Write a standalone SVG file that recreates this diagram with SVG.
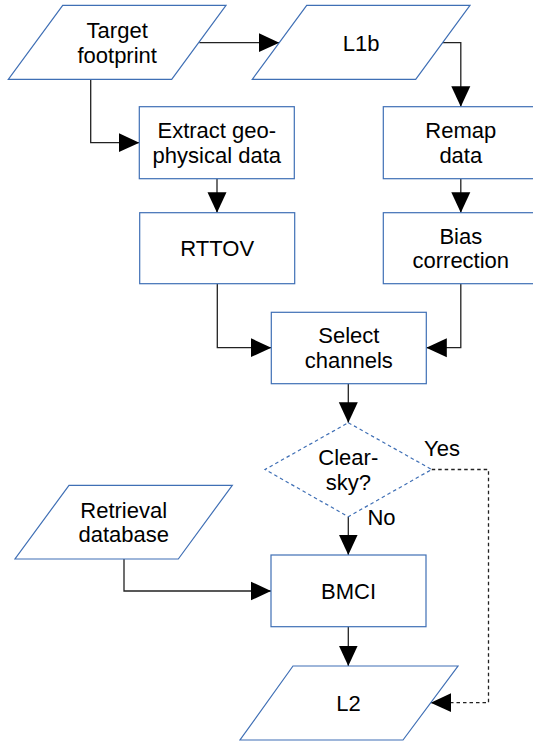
<svg xmlns="http://www.w3.org/2000/svg" width="533" height="744" viewBox="0 0 533 744">
<defs>
<style>
.n{fill:#ffffff;stroke:#3f6fb5;stroke-width:1.2}
.d{fill:#ffffff;stroke:#3f6fb5;stroke-width:1.2;stroke-dasharray:3.5,3}
.t{font-family:"Liberation Sans",Arial,sans-serif;font-size:22px;fill:#000;text-anchor:middle}
.c{fill:none;stroke:#222;stroke-width:1.3;marker-end:url(#ah)}
.cd{fill:none;stroke:#222;stroke-width:1.3;stroke-dasharray:3.5,3;marker-end:url(#ah)}
</style>
<marker id="ah" markerUnits="userSpaceOnUse" markerWidth="21" markerHeight="20" viewBox="0 0 21 20" refX="20.5" refY="10" orient="auto">
<path d="M0,0.5 L20.5,10 L0,19.5 z" fill="#000"/>
</marker>
</defs>
<rect width="533" height="744" fill="#ffffff"/>

<g id="connectors">
<path class="c" d="M199.3,42.7 H279.3"/>
<path class="c" d="M442.3,42.7 H460.8 V106.7"/>
<path class="c" d="M90.7,79.3 V142.7 H139.3"/>
<path class="c" d="M217,178.7 V212.7"/>
<path class="c" d="M460.8,178.7 V212.7"/>
<path class="c" d="M217.3,283.7 V347.7 H271.3"/>
<path class="c" d="M460.8,283.7 V347.7 H426.3"/>
<path class="c" d="M348.3,383.7 V422.7"/>
<path class="c" d="M348.3,516.7 V555"/>
<path class="c" d="M124,559 V591 H271"/>
<path class="c" d="M348.3,626.7 V666"/>
<path class="cd" d="M431.7,469.5 H488.5 V702.7 H430.7"/>
<text class="t" x="442" y="456">Yes</text>
<text class="t" x="381.5" y="525">No</text>
</g>

<g id="target">
<polygon class="n" points="62.7,5.3 226,5.3 171.7,79.3 8.3,79.3"/>
<text class="t" x="117.2" y="37.7">Target</text>
<text class="t" x="117.2" y="62.7">footprint</text>
</g>

<g id="l1b">
<polygon class="n" points="306.7,5.3 470,5.3 415.7,79.3 252.3,79.3"/>
<text class="t" x="361.2" y="50.7">L1b</text>
</g>

<g id="extract">
<rect class="n" x="139.3" y="106.7" width="155" height="72"/>
<text class="t" x="216.8" y="138.2">Extract geo-</text>
<text class="t" x="216.8" y="163.2">physical data</text>
</g>

<g id="remap">
<rect class="n" x="383.3" y="106.7" width="155" height="72"/>
<text class="t" x="460.8" y="138.2">Remap</text>
<text class="t" x="460.8" y="163.2">data</text>
</g>

<g id="rttov">
<rect class="n" x="139.7" y="212.7" width="155" height="71"/>
<text class="t" x="217.2" y="256.4">RTTOV</text>
</g>

<g id="bias">
<rect class="n" x="383.3" y="212.7" width="155" height="71"/>
<text class="t" x="460.8" y="243.5">Bias</text>
<text class="t" x="460.8" y="268">correction</text>
</g>

<g id="select">
<rect class="n" x="271.3" y="312.3" width="155" height="71.4"/>
<text class="t" x="348.8" y="343.3">Select</text>
<text class="t" x="348.8" y="367.8">channels</text>
</g>

<g id="clearsky">
<polygon class="d" points="348.3,422.7 431.7,469.5 348.3,516.7 265,469.5"/>
<text class="t" x="348.3" y="465">Clear-</text>
<text class="t" x="348.3" y="490">sky?</text>
</g>

<g id="retrieval">
<polygon class="n" points="69,485.3 232.3,485.3 178.3,559 15,559"/>
<text class="t" x="123.7" y="518">Retrieval</text>
<text class="t" x="123.7" y="542">database</text>
</g>

<g id="bmci">
<rect class="n" x="271" y="555" width="155" height="71.7"/>
<text class="t" x="348.5" y="599">BMCI</text>
</g>

<g id="l2">
<polygon class="n" points="293,666 458,666 403,740 240,740"/>
<text class="t" x="348.5" y="711">L2</text>
</g>
</svg>
